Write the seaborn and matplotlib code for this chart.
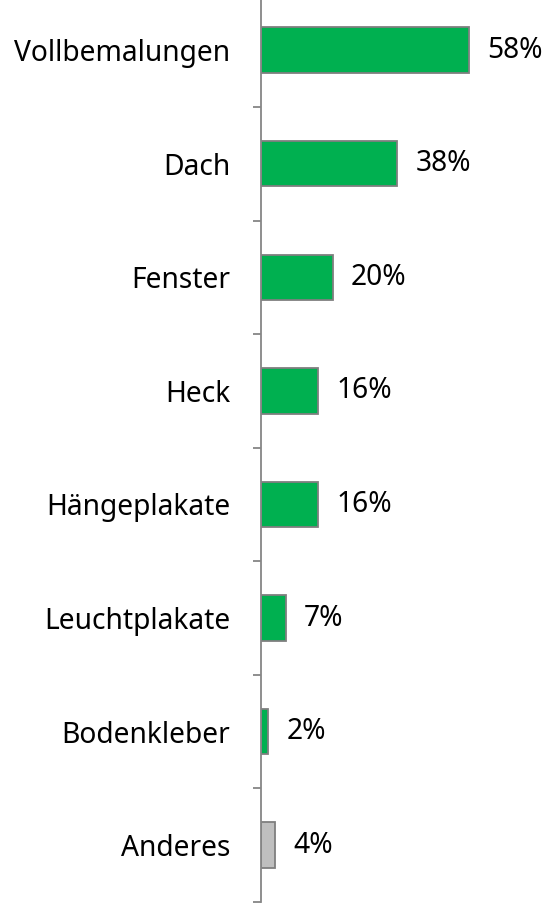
import matplotlib
matplotlib.use("Agg")
import matplotlib.pyplot as plt
import seaborn as sns
import pandas as pd
import numpy as np
from matplotlib.ticker import FixedLocator

categories = ["Vollbemalungen", "Dach", "Fenster", "Heck", "Hängeplakate",
              "Leuchtplakate", "Bodenkleber", "Anderes"]
values = [58, 38, 20, 16, 16, 7, 2, 4]
bar_colors = ["#00B050"] * 7 + ["#BFBFBF"]
value_labels = [f"{v}%" for v in values]

sns.set_theme(style="white")
plt.rcParams['font.family'] = ['Noto Sans', 'DejaVu Sans']

df = pd.DataFrame({"cat": categories, "val": values})

fig = plt.figure(figsize=(5.49, 9.08), dpi=100)
W, H = 549, 908
ax_left = 261 / W
ax_w = (549 - 261) / W
y_top = -6.6
y_bot = 902
ax = fig.add_axes([ax_left, (H - y_bot) / H, ax_w, (y_bot - y_top) / H])

sns.barplot(data=df, y="cat", x="val", hue="cat", palette=bar_colors,
            orient="h", ax=ax, width=0.4, legend=False, saturation=1,
            edgecolor="#7F7F7F", linewidth=1.3)

px_per_pct = 3.586
ax.set_xlim(0, (549 - 261) / px_per_pct)
ax.set_ylim(len(categories) - 0.5, -0.5)

fs = 20.3
for i, (v, lab) in enumerate(zip(values, value_labels)):
    ax.annotate(lab, xy=(v, i), xytext=(13, 0), textcoords="offset points",
                va="center", ha="left", fontsize=fs, color="black")

ax.set_xlabel("")
ax.set_ylabel("")
ax.set_xticks([])
for s in ["top", "right", "bottom"]:
    ax.spines[s].set_visible(False)
ax.spines["left"].set_color("#868686")
ax.spines["left"].set_linewidth(1.3)

ax.yaxis.set_minor_locator(FixedLocator(np.arange(-0.5, len(categories), 1.0)))
ax.tick_params(axis="y", which="major", length=0, pad=22, labelsize=fs,
               labelcolor="black")
ax.tick_params(axis="y", which="minor", length=6, width=1.3, color="#868686",
               direction="out", left=True)

fig.savefig("out.png", dpi=100)
